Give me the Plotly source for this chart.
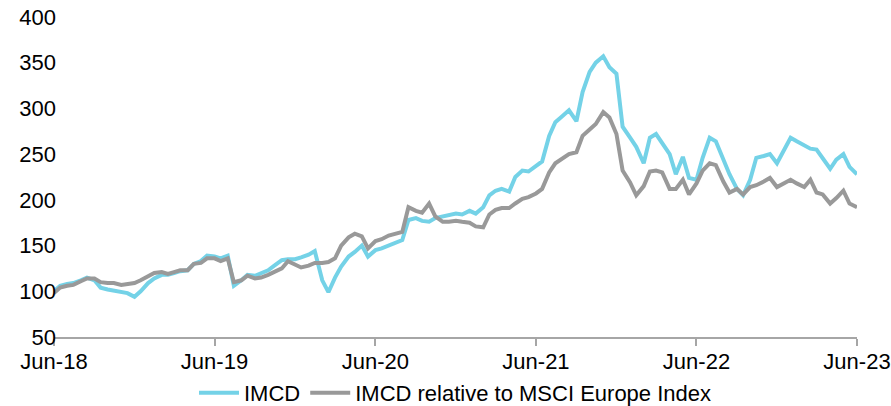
import pandas as pd
import plotly.graph_objects as go

# semi-monthly observation dates, Jun-2018 .. Jun-2023
dates = pd.date_range("2018-06-01", periods=121, freq="SMS")

imcd = [100, 106, 108, 109, 112, 115, 112, 104, 102, 101,
        100, 98, 94, 100, 109, 114, 118, 118, 120, 122,
        123, 130, 133, 139, 138, 136, 139, 106, 112, 118,
        117, 120, 123, 128, 134, 135, 135, 137, 140, 144,
        112, 99, 115, 127, 138, 143, 150, 138, 145, 147,
        150, 152, 156, 178, 180, 177, 176, 180, 182, 184,
        185, 184, 188, 185, 192, 205, 210, 212, 209, 225,
        232, 231, 237, 242, 270, 285, 292, 298, 286, 318,
        340, 350, 357, 345, 338, 280, 268, 258, 240, 268,
        272, 262, 250, 228, 247, 224, 222, 246, 268, 264,
        245, 228, 212, 205, 222, 246, 248, 250, 240, 252,
        268, 264, 260, 256, 255, 245, 234, 244, 250, 236,
        228]

relative = [98, 104, 106, 107, 111, 114, 114, 110, 109, 109,
            107, 108, 109, 112, 116, 120, 121, 119, 121, 123,
            123, 130, 131, 136, 136, 133, 136, 110, 112, 117,
            114, 115, 118, 121, 125, 133, 129, 126, 128, 131,
            131, 132, 136, 150, 159, 163, 160, 147, 155, 157,
            161, 163, 165, 192, 188, 186, 196, 182, 176, 176,
            177, 176, 175, 171, 170, 184, 189, 191, 191, 196,
            201, 203, 207, 212, 230, 240, 246, 250, 252, 270,
            277, 283, 296, 290, 272, 232, 219, 205, 215, 231,
            232, 230, 212, 212, 222, 206, 218, 232, 240, 238,
            220, 208, 212, 206, 214, 216, 220, 224, 214, 218,
            222, 218, 214, 222, 208, 206, 196, 202, 210, 196,
            192]

tick_dates = ["2018-06-01", "2019-06-01", "2020-06-01", "2021-06-01", "2022-06-01", "2023-06-01"]
tick_labels = ["Jun-18", "Jun-19", "Jun-20", "Jun-21", "Jun-22", "Jun-23"]

BLUE = "#74D2E7"
GREY = "#999999"
FONT = "Liberation Sans, Arial, sans-serif"

fig = go.Figure()
fig.add_trace(go.Scatter(x=dates, y=imcd, mode="lines", name="IMCD",
                         line=dict(color=BLUE, width=4)))
fig.add_trace(go.Scatter(x=dates, y=relative, mode="lines",
                         name="IMCD relative to MSCI Europe Index",
                         line=dict(color=GREY, width=4)))

fig.update_layout(
    width=891, height=406,
    margin=dict(l=54, r=34, t=17, b=69, autoexpand=False),
    paper_bgcolor="white", plot_bgcolor="white",
    font=dict(family=FONT, size=22, color="#000000"),
    showlegend=True,
    legend=dict(orientation="h", x=0.5, xanchor="center",
                yref="container", y=0.032, yanchor="middle",
                font=dict(size=22), itemwidth=40, bgcolor="rgba(0,0,0,0)"),
    xaxis=dict(range=["2018-06-01", "2023-06-01"], tickvals=tick_dates, ticktext=tick_labels,
               showline=True, linecolor="#A6A6A6", linewidth=1.5,
               ticks="outside", tickcolor="#A6A6A6", ticklen=7, tickwidth=1.5,
               ticklabelstandoff=-3, ticklabeloverflow="allow",
               showgrid=False, zeroline=False, automargin=False, tickfont=dict(size=22)),
    yaxis=dict(range=[50, 400], dtick=50, tick0=50, showline=False, showgrid=False,
               zeroline=False, ticks="", ticklabelstandoff=-3, ticklabeloverflow="allow",
               automargin=False, tickfont=dict(size=22)),
)

# remove the default 8px page margin so the 891x406 figure fills the window exactly
fig.write_html("out.html", config={"displayModeBar": False},
               post_script="document.body.style.margin='0';document.body.style.overflow='hidden';")
